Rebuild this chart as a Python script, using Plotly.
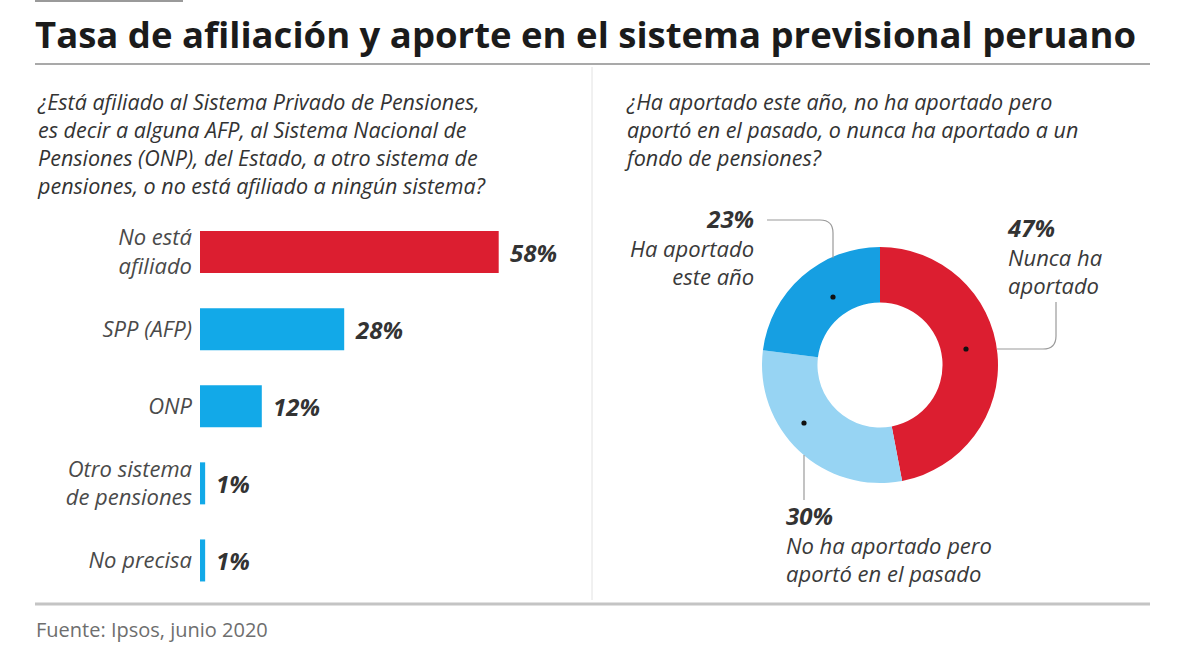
import plotly.graph_objects as go

W, H = 1200, 660

# ---------------- data ----------------
title = "Tasa de afiliación y aporte en el sistema previsional peruano"
q_left = ["¿Está afiliado al Sistema Privado de Pensiones,",
          "es decir a alguna AFP, al Sistema Nacional de",
          "Pensiones (ONP), del Estado, a otro sistema de",
          "pensiones, o no está afiliado a ningún sistema?"]
q_right = ["¿Ha aportado este año, no ha aportado pero",
           "aportó en el pasado, o nunca ha aportado a un",
           "fondo de pensiones?"]
bar_categories = ["No está<br>afiliado", "SPP (AFP)", "ONP",
                  "Otro sistema<br>de pensiones", "No precisa"]
bar_values = [58, 28, 12, 1, 1]
bar_colors = ["#DC1E30", "#12A9E8", "#12A9E8", "#12A9E8", "#12A9E8"]

donut_labels = ["Nunca ha aportado", "No ha aportado pero aportó en el pasado",
                "Ha aportado este año"]
donut_lines = [["Nunca ha", "aportado"], ["No ha aportado pero", "aportó en el pasado"],
               ["Ha aportado", "este año"]]
donut_values = [47, 30, 23]
donut_colors = ["#DC1E30", "#97D4F3", "#169FE2"]
source = "Fuente: Ipsos, junio 2020"

FONT = "Open Sans, Noto Sans, sans-serif"
TXT = "#333333"


def px(x):
    return x / W


def py(y):
    return 1 - y / H


fig = go.Figure()

# bars
fig.add_trace(go.Bar(
    x=bar_values, y=bar_categories, orientation="h",
    marker=dict(color=bar_colors, line=dict(width=0)),
    hoverinfo="skip", showlegend=False,
    xaxis="x", yaxis="y"))

# donut
fig.add_trace(go.Pie(
    values=donut_values, labels=donut_labels, hole=0.53,
    marker=dict(colors=donut_colors, line=dict(width=0)),
    sort=False, direction="clockwise", rotation=0,
    textinfo="none", hoverinfo="skip", showlegend=False,
    domain=dict(x=[px(762), px(998)], y=[py(483), py(247)])))

ann = []
# title
ann.append(dict(text="<b>" + title + "</b>", x=px(33), y=py(34), xref="paper", yref="paper",
                xanchor="left", yanchor="middle", showarrow=False,
                font=dict(family="Open Sans, sans-serif", size=36.5, color="#1b1b1b", weight=800)))

QS = 21.5


def block(lines, x, y_first, anchor, size, color, style="italic", weight=400):
    n = len(lines)
    yc = y_first + (n - 1) * size * 1.3 / 2
    ann.append(dict(text="<br>".join(lines), x=px(x), y=py(yc), xref="paper", yref="paper",
                    xanchor=anchor, yanchor="middle", align=anchor, showarrow=False,
                    font=dict(family=FONT, size=size, color=color, style=style, weight=weight)))


block(q_left, 35, 102, "left", QS, TXT)
block(q_right, 622, 102, "left", QS, TXT)

# bar values
for c, v in zip(bar_categories, bar_values):
    ann.append(dict(text=f"{v}%", x=v, y=c, xref="x", yref="y", xanchor="left",
                    yanchor="middle", xshift=9, showarrow=False,
                    font=dict(family=FONT, size=24, color=TXT, style="italic", weight=700)))

# donut labels
info = {lab: (v, ls) for lab, v, ls in zip(donut_labels, donut_values, donut_lines)}


def dlabel(key, x, y_first, anchor):
    v, ls = info[key]
    lines = [f"<b><span style=\"font-size:24px;fill:#333333\">{v}%</span></b>"] + ls
    block(lines, x, y_first, anchor, 22, "#3a3a3a")


dlabel("Ha aportado este año", 756, 218, "right")
dlabel("Nunca ha aportado", 1005, 227, "left")
dlabel("No ha aportado pero aportó en el pasado", 784, 515, "left")

# source
ann.append(dict(text=source, x=px(34), y=py(629), xref="paper", yref="paper",
                xanchor="left", yanchor="middle", showarrow=False,
                font=dict(family=FONT, size=20, color="#6e6e6e")))

shapes = []


def line(x0, y0, x1, y1, color, w):
    shapes.append(dict(type="line", xref="paper", yref="paper",
                       x0=px(x0), y0=py(y0), x1=px(x1), y1=py(y1),
                       line=dict(color=color, width=w)))


line(35, 1, 183, 1, "#9a9a9a", 2)
line(35, 64, 1150, 64, "#a9a9a9", 2)
line(592, 67, 592, 600, "#e2e2e2", 1)
line(35, 604, 1150, 604, "#c4c4c4", 3)


def path(pts):
    s = ""
    for p in pts:
        cmd = p[0]
        coords = p[1:]
        s += cmd + " " + " ".join(f"{px(coords[k]):.5f},{py(coords[k + 1]):.5f}"
                                  for k in range(0, len(coords), 2)) + " "
    shapes.append(dict(type="path", xref="paper", yref="paper", path=s.strip(),
                       line=dict(color="#9a9a9a", width=1.2)))


# leader lines
path([("M", 767, 220), ("L", 820, 220), ("Q", 833, 220, 833, 233), ("L", 833, 258)])
path([("M", 997, 349), ("L", 1043, 349), ("Q", 1056, 349, 1056, 336), ("L", 1056, 302)])
path([("M", 804, 455), ("L", 804, 500)])


def dot(x, y):
    r = 2.6
    shapes.append(dict(type="circle", xref="paper", yref="paper",
                       x0=px(x - r), x1=px(x + r), y0=py(y + r), y1=py(y - r),
                       fillcolor="#111111", line=dict(width=0)))


dot(833, 297)
dot(966, 349)
dot(804, 423)

fig.update_layout(
    width=W, height=H, margin=dict(l=0, r=0, t=0, b=0),
    paper_bgcolor="white", plot_bgcolor="white",
    annotations=ann, shapes=shapes,
    xaxis=dict(domain=[px(200), px(530)], range=[0, 330 / 5.15], visible=False, fixedrange=True),
    yaxis=dict(domain=[py(599), py(213.5)], autorange="reversed", showgrid=False,
               zeroline=False, showline=False, ticks="", ticklabelstandoff=7,
               tickfont=dict(family=FONT, size=22, color="#4a4a4a", style="italic"),
               anchor="x", fixedrange=True),
    bargap=0.455,
)

fig.write_html("out.html")
